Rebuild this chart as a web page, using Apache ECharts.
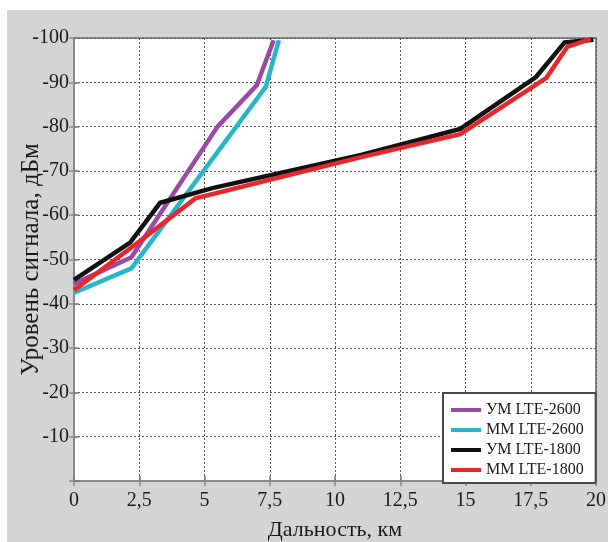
<!DOCTYPE html>
<html>
<head>
<meta charset="utf-8">
<script src="https://cdn.jsdelivr.net/npm/echarts@6/dist/echarts.min.js"></script>
<style>
html,body{margin:0;padding:0;background:#fff;}
#chart{width:608px;height:542px;}
</style>
</head>
<body>
<div id="chart"></div>
<script>
// ---- data ----
const seriesNames = ['УМ LTE-2600', 'ММ LTE-2600', 'УМ LTE-1800', 'ММ LTE-1800'];
const seriesColors = ['#9a4aa6', '#27b6c8', '#111111', '#e8262c'];

const umLte2600 = [[0, -44.5], [2.2, -50.5], [5.5, -80], [7.0, -89.3], [7.65, -99.5]];
const mmLte2600 = [[0, -42.5], [2.2, -48], [7.35, -89], [7.85, -99.5]];
const umLte1800 = [[0, -45.4], [2.15, -53.8], [3.3, -62.8], [5.3, -66.1], [11, -73.6], [14.8, -79.5], [17.7, -91.2], [18.8, -99], [19.9, -99.6]];
const mmLte1800 = [[0, -43.1], [2.2, -52.7], [4.65, -63.8], [11, -73.1], [14.8, -78.3], [18.1, -91], [18.9, -98], [19.8, -99.8]];

const xTickValues = [0, 2.5, 5, 7.5, 10, 12.5, 15, 17.5, 20];
const xTickLabels = ['0', '2,5', '5', '7,5', '10', '12,5', '15', '17,5', '20'];
const yTickValues = [-100, -90, -80, -70, -60, -50, -40, -30, -20, -10, 0];
const yTickLabels = ['-100', '-90', '-80', '-70', '-60', '-50', '-40', '-30', '-20', '-10', ''];

const xName = 'Дальность, км';
const yName = 'Уровень сигнала, дБм';

// ---- chart ----
const SERIF = '"Liberation Serif", "DejaVu Serif", serif';
const chart = echarts.init(document.getElementById('chart'), null, {renderer: 'canvas'});
const allData = [umLte2600, mmLte2600, umLte1800, mmLte1800];

const lblX = v => { const i = xTickValues.indexOf(v); return i >= 0 ? xTickLabels[i] : ''; };
const lblY = v => { const i = yTickValues.indexOf(v); return i >= 0 ? yTickLabels[i] : ''; };

chart.setOption({
  animation: false,
  backgroundColor: '#ffffff',
  graphic: [{
    type: 'rect', left: 7, top: 10, z: -10,
    shape: {width: 601, height: 532},
    style: {fill: '#d4d4d4'}
  }],
  grid: {
    left: 74, top: 38, right: 12, bottom: 61,
    outerBoundsMode: 'none', containLabel: false,
    show: true, backgroundColor: '#ffffff', borderColor: '#8a8a8a', borderWidth: 2
  },
  legend: {
    orient: 'vertical',
    left: 443, top: 393,
    backgroundColor: '#ffffff',
    borderColor: '#4a4a4a', borderWidth: 2, borderRadius: 0,
    padding: [9, 12, 5, 8],
    itemGap: 4,
    itemWidth: 30, itemHeight: 4,
    icon: 'rect',
    data: seriesNames,
    textStyle: {fontFamily: SERIF, fontSize: 16, color: '#1a1a1a', padding: [0, 0, 0, 0]}
  },
  xAxis: [{
    type: 'value', min: 0, max: 20, interval: 2.5,
    name: xName, nameLocation: 'middle', nameGap: 38, nameMoveOverlap: false,
    nameTextStyle: {fontFamily: SERIF, fontSize: 22, color: '#1a1a1a'},
    axisLine: {show: true, lineStyle: {color: '#7a7a7a', width: 2}},
    axisTick: {show: true, inside: true, length: 5, lineStyle: {color: '#7a7a7a', width: 1.5}},
    axisLabel: {fontFamily: SERIF, fontSize: 20, color: '#1a1a1a', margin: 10, formatter: lblX},
    splitLine: {show: true, lineStyle: {color: '#555', width: 1, type: [2, 2]}}
  }, {
    type: 'value', min: 0, max: 20, interval: 2.5, position: 'top',
    axisLine: {show: true, lineStyle: {color: '#8a8a8a', width: 2}},
    axisTick: {show: true, inside: true, length: 5, lineStyle: {color: '#8a8a8a', width: 1.5}},
    axisLabel: {show: false}, splitLine: {show: false}
  }],
  yAxis: [{
    type: 'value', min: -100, max: 0, interval: 10, inverse: true,
    name: yName, nameLocation: 'middle', nameGap: 30, nameMoveOverlap: false,
    nameTextStyle: {fontFamily: SERIF, fontSize: 25, color: '#1a1a1a'},
    axisLine: {show: true, lineStyle: {color: '#7a7a7a', width: 2}},
    axisTick: {show: true, inside: true, length: 5, lineStyle: {color: '#7a7a7a', width: 1.5}},
    axisLabel: {fontFamily: SERIF, fontSize: 20, color: '#1a1a1a', margin: 5, formatter: lblY},
    splitLine: {show: true, lineStyle: {color: '#555', width: 1, type: [2, 2]}}
  }, {
    type: 'value', min: -100, max: 0, interval: 10, inverse: true, position: 'right',
    axisLine: {show: true, lineStyle: {color: '#8a8a8a', width: 2}},
    axisTick: {show: true, inside: true, length: 5, lineStyle: {color: '#8a8a8a', width: 1.5}},
    axisLabel: {show: false}, splitLine: {show: false}
  }],
  series: seriesNames.map((n, i) => ({
    name: n, type: 'line', xAxisIndex: 0, yAxisIndex: 0,
    data: allData[i], showSymbol: false, symbol: 'none',
    color: seriesColors[i],
    lineStyle: {color: seriesColors[i], width: 4.5, join: 'miter'},
    z: 3 + i
  }))
});
</script>
</body>
</html>
